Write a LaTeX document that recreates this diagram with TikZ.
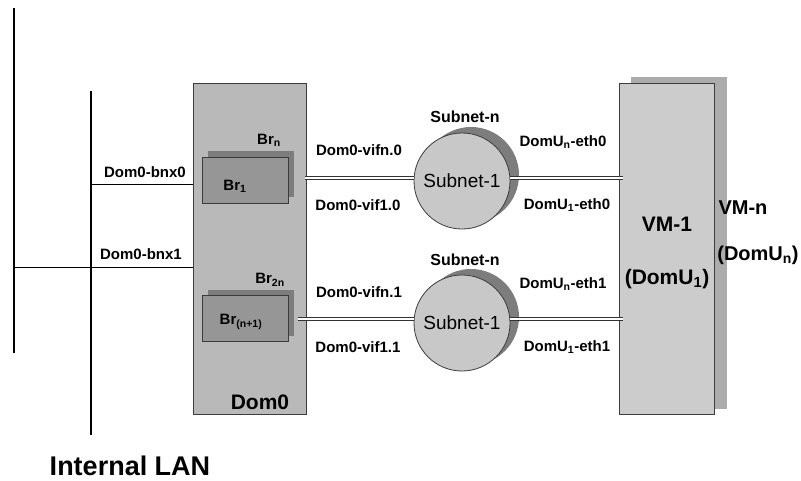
\documentclass[tikz,border=0pt]{standalone}
\usepackage{fontspec}
\setmainfont{Liberation Sans}
\usetikzlibrary{shapes.geometric}
\definecolor{domgray}{RGB}{185,185,185}
\definecolor{brgray}{RGB}{150,150,150}
\definecolor{brshadow}{RGB}{125,125,125}
\definecolor{subgray}{RGB}{200,200,200}
\definecolor{subshadow}{RGB}{125,125,125}
\definecolor{vmgray}{RGB}{204,204,204}
\definecolor{vmshadow}{RGB}{172,172,172}
\definecolor{edgegray}{RGB}{60,60,60}
\tikzset{
  lbl/.style={font=\fontsize{15}{17}\selectfont\bfseries, inner sep=0pt},
  biglbl/.style={font=\fontsize{21}{24}\selectfont\bfseries, inner sep=0pt},
  subnetlbl/.style={font=\fontsize{19}{21}\selectfont, inner sep=0pt},
  bus/.style={line width=1.3pt, black},
  link/.style={line width=1pt, black},
  dlink/.style={draw=black!80, line width=0.9pt, double=white, double distance=2pt},
  boxnode/.style={draw=edgegray, line width=0.8pt, inner sep=0pt, outer sep=0pt, anchor=north west},
  shadownode/.style={inner sep=0pt, outer sep=0pt, anchor=north west},
  subnet/.style={circle, draw=edgegray, line width=0.8pt, fill=subgray, minimum size=96pt, inner sep=0pt},
  subshad/.style={circle, fill=subshadow, minimum size=96pt, inner sep=0pt},
}
\begin{document}
\begin{tikzpicture}[x=1pt,y=-1pt]
\useasboundingbox (0,0) rectangle (801,480);
% LAN buses
\coordinate (busAtop) at (14,8);
\coordinate (busAbot) at (14,353);
\coordinate (busBtop) at (91,91);
\coordinate (busBbot) at (91,435);
\draw[bus] (busAtop) -- (busAbot);
\draw[bus] (busBtop) -- (busBbot);
\node[font=\fontsize{27}{30}\selectfont\bfseries, inner sep=0pt] (lan) at (130,466) {Internal LAN};

% Dom0
\node[boxnode, fill=domgray, minimum width=113pt, minimum height=331pt] (dom0) at (193,83) {};
\node[font=\fontsize{21}{24}\selectfont\bfseries, inner sep=0pt] (dom0lbl) at (260,402) {Dom0};

% bridges row 1
\node[shadownode, fill=brshadow, minimum width=86pt, minimum height=46pt] (brn) at (208,151) {};
\node[boxnode, fill=brgray, minimum width=86pt, minimum height=46pt] (br1) at (202,157) {};
\node[lbl] (brnlbl) at (269,140) {Br\textsubscript{n}};
\node[lbl] (br1lbl) at (235,186) {Br\textsubscript{1}};
% bridges row 2
\node[shadownode, fill=brshadow, minimum width=86pt, minimum height=46pt] (br2n) at (208,290) {};
\node[boxnode, fill=brgray, minimum width=86pt, minimum height=46pt] (brn1) at (202,295) {};
\node[lbl] (br2nlbl) at (270,280) {Br\textsubscript{2n}};
\node[lbl] (brn1lbl) at (241,322) {Br\textsubscript{(n+1)}};

% links LAN -> Dom0
\coordinate (b0) at (91,184);
\coordinate (b1) at (14,267);
\draw[link] (b0) -- (b0 -| dom0.west);
\draw[link] (b1) -- (b1 -| dom0.west);
\node[lbl] (bnx0) at (145,172) {Dom0-bnx0};
\node[lbl] (bnx1) at (141,254) {Dom0-bnx1};

% VM
\node[shadownode, fill=vmshadow, minimum width=96pt, minimum height=332pt] (vmn) at (631,77) {};
\node[boxnode, fill=vmgray, minimum width=95pt, minimum height=331pt] (vm1) at (619,83) {};
\node[biglbl] (vm1lbl) at (667,224) {VM-1};
\node[biglbl] (domu1lbl) at (667,279) {(DomU\textsubscript{1})};
\node[font=\fontsize{20}{24}\selectfont\bfseries, inner sep=0pt] (vmnlbl) at (743,208) {VM-n};
\node[font=\fontsize{20}{24}\selectfont\bfseries, inner sep=0pt] (domunlbl) at (758,255) {(DomU\textsubscript{n})};

% subnets
\node[subshad] (s0shad) at (471,175) {};
\node[subnet] (s0) at (462,181) {};
\node[subnetlbl] at (s0) {Subnet-1};
\node[lbl, font=\fontsize{16}{18}\selectfont\bfseries] (s0n) at (465,117) {Subnet-n};

\node[subshad] (s1shad) at (471,317) {};
\node[subnet] (s1) at (462,323) {};
\node[subnetlbl] at (s1) {Subnet-1};
\node[lbl, font=\fontsize{16}{18}\selectfont\bfseries] (s1n) at (465,260) {Subnet-n};

% double links
\coordinate (l0) at (305,178);
\coordinate (l1) at (298,319);
\draw[dlink] (l0) -- (l0 -| s0.west);
\draw[dlink] (s0.east |- l0) -- (623,178);
\draw[dlink] (l1) -- (l1 -| s1.west);
\draw[dlink] (s1.east |- l1) -- (623,319);

\node[lbl] (vifn0) at (359,150) {Dom0-vifn.0};
\node[lbl] (vif10) at (358,205) {Dom0-vif1.0};
\node[lbl] (domune0) at (563,142) {DomU\textsubscript{n}-eth0};
\node[lbl] (domu1e0) at (567,205) {DomU\textsubscript{1}-eth0};
\node[lbl] (vifn1) at (359,292) {Dom0-vifn.1};
\node[lbl] (vif11) at (358,347) {Dom0-vif1.1};
\node[lbl] (domune1) at (563,284) {DomU\textsubscript{n}-eth1};
\node[lbl] (domu1e1) at (567,347) {DomU\textsubscript{1}-eth1};
\end{tikzpicture}
\end{document}
